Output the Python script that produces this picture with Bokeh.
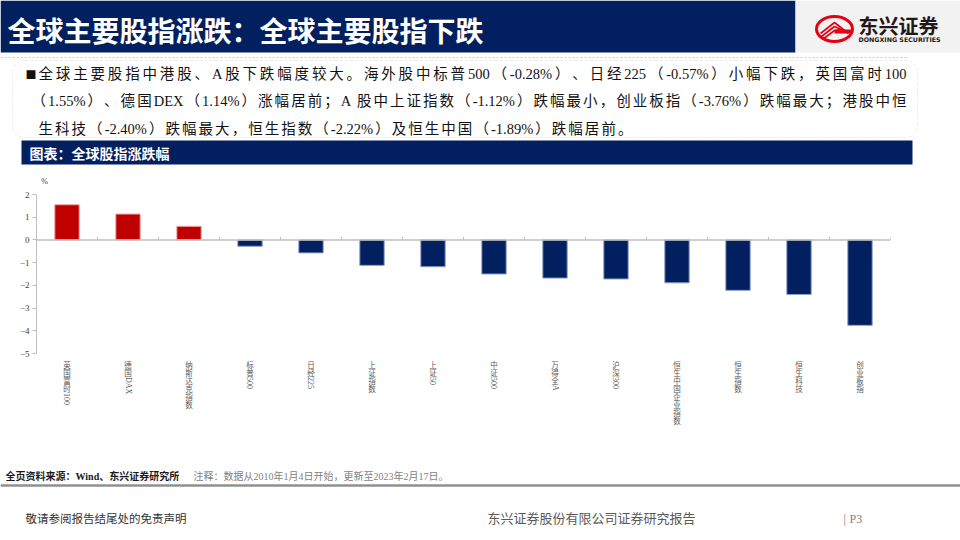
import math
from bokeh.plotting import figure
from bokeh.models import Range1d, FixedTicker, Span, BoxAnnotation, FactorRange
from bokeh.transform import dodge
from bokeh.core.properties import value
from bokeh.embed import file_html
from bokeh.resources import INLINE

# ---------------- data ----------------
categories = ["英国富时100", "德国DAX", "纳斯达克指数", "标普500", "日经225", "上证指数", "上证50",
              "中证500", "万得全A", "沪深300", "恒生中国企业指数", "恒生指数", "恒生科技", "创业板指"]
changes = [1.55, 1.14, 0.60, -0.28, -0.57, -1.12, -1.18, -1.50, -1.68, -1.72, -1.89, -2.22, -2.40, -3.76]
y_ticks = [-5, -4, -3, -2, -1, 0, 1, 2]

title = "全球主要股指涨跌：全球主要股指下跌"
summary_lines = [
    "全球主要股指中港股、A股下跌幅度较大。海外股中标普500（-0.28%）、日经225（-0.57%）小幅下跌，英国富时100",
    "（1.55%）、德国DEX（1.14%）涨幅居前； A股中上证指数（-1.12%）跌幅最小，创业板指（-3.76%）跌幅最大；港股中恒",
    "生科技（-2.40%）跌幅最大，恒生指数（-2.22%）及恒生中国（-1.89%）跌幅居前。",
]
chart_title = "图表：全球股指涨跌幅"
unit_label = "%"
source_bold = "全页资料来源：Wind、东兴证券研究所"
source_note = "注释：数据从2010年1月4日开始，更新至2023年2月17日。"
disclaimer = "敬请参阅报告结尾处的免责声明"
company_report = "东兴证券股份有限公司证券研究报告"
page_no = "P3"

NAVY = "#022060"
RED = "#C00000"
SERIF_NAME = "Liberation Serif, Noto Sans CJK SC"
SERIF = value(SERIF_NAME)
SANS = value("Noto Sans CJK SC")

# approximate Times-like advance widths (em) for ASCII
ASCII_W = {".": 0.25, "%": 0.833, "-": 0.333, " ": 0.25, "A": 0.722, "D": 0.722, "E": 0.611, "X": 0.722}


def tokens_of(s):
    toks, buf = [], ""
    for ch in s:
        if ord(ch) < 128:
            buf += ch
        else:
            if buf:
                toks.append(buf)
                buf = ""
            toks.append(ch)
    if buf:
        toks.append(buf)
    return toks


def tok_width(t, fs):
    if len(t) == 1 and ord(t) >= 128:
        return fs
    return sum(ASCII_W.get(c, 0.5) * fs for c in t)


def page_fig(h, y0, **kw):
    f = figure(width=960, height=h, x_range=kw.pop("x_range", Range1d(0, 960)), y_range=Range1d(y0 + h, y0),
               output_backend="svg", toolbar_location=None, **kw)
    f.axis.visible = False
    f.grid.visible = False
    f.outline_line_color = None
    f.background_fill_color = "white"
    return f


# ---------------- top part ----------------
top = page_fig(186, 0, min_border=0)
top.quad(left=[0], right=[795], top=[0], bottom=[52], fill_color=NAVY, line_color=None)
top.quad(left=[795], right=[960], top=[0], bottom=[52], fill_color="#F2F2F2", line_color=None)
top.text(x=[7], y=[29], text=[title], text_color="white", text_font=SANS, text_font_style="bold",
         text_font_size="28px", text_baseline="middle")

# logo
top.ellipse(x=[834], y=[28.5], width=[36], height=[25], fill_color=None, line_color="#E60012", line_width=3)
top.multi_line(xs=[[820, 834, 848], [821, 834, 845], [822, 834, 842]],
               ys=[[33, 22, 33], [36, 26, 31], [39, 30, 29]], line_color="#E60012", line_width=1.6)
top.quad(left=[834], right=[851], top=[29], bottom=[33], fill_color="#E60012", line_color=None)
top.text(x=[858], y=[25], text=["东兴证券"], text_color="#231815", text_font=SANS, text_font_style="bold",
         text_font_size="20px", text_baseline="middle")
top.text(x=[858], y=[38.5], text=["DONGXING SECURITIES"], text_color="#231815", text_font=value("DejaVu Sans"),
         text_font_style="bold", text_font_size="6.3px", text_baseline="middle")

top.segment(x0=[0], y0=[57], x1=[908], y1=[57], line_color="#C8C8C8", line_dash="2 2", line_width=1)
top.add_layout(BoxAnnotation(left=12, right=917, top=60, bottom=137, fill_color=None,
                             line_color="#BFBFBF", line_dash="3 2", line_width=1, border_radius=12))

# justified summary text (character spacing like the source document)
FS_T = 14.5
starts = [38, 31, 38]
ends = [906, 906, None]
line_y = [73, 100, 128]
sx, sy, st = [], [], []
gap_prev = 2.5
for line, x0, x1, yy in zip(summary_lines, starts, ends, line_y):
    toks = tokens_of(line)
    total = sum(tok_width(t, FS_T) for t in toks)
    gap = (x1 - x0 - total) / (len(toks) - 1) if x1 else gap_prev
    gap_prev = gap
    x = x0
    for t in toks:
        sx.append(x)
        sy.append(yy)
        st.append(t)
        x += tok_width(t, FS_T) + gap
top.text(x=sx, y=sy, text=st, text_color="#111111", text_font=SERIF,
         text_font_size=f"{FS_T}px", text_baseline="middle")
top.text(x=[25], y=[73], text=["■"], text_color="#111111", text_font=value("Noto Sans CJK SC"),
         text_font_size="11px", text_baseline="middle")

top.quad(left=[21], right=[912], top=[140], bottom=[164], fill_color=NAVY, line_color=None)
top.text(x=[29], y=[152], text=[chart_title], text_color="white", text_font=SANS, text_font_style="bold",
         text_font_size="14px", text_baseline="middle")
top.text(x=[44], y=[181], text=[unit_label], text_color="#404040", text_font=SERIF,
         text_font_size="8px", text_baseline="middle", text_align="center")

# ---------------- chart ----------------
xr = FactorRange(*categories, range_padding=0)
p = figure(width=960, height=172, x_range=xr,
           y_range=Range1d(-5, 2), output_backend="svg", toolbar_location=None,
           min_border_top=8, min_border_bottom=5, min_border_left=36, min_border_right=70)
p.grid.visible = False
p.outline_line_color = None

colors = [RED if v >= 0 else NAVY for v in changes]
edges = ["#F2A7A7" if v >= 0 else "#8E9FC7" for v in changes]
p.vbar(x=categories, top=changes, bottom=0, width=0.4, fill_color=colors, line_color=edges, line_width=1)

p.add_layout(Span(location=0, dimension="width", line_color="#BFBFBF", line_width=1.5))
p.segment(x0=dodge("c", 0.5, range=xr), y0=0, x1=dodge("c", 0.5, range=xr), y1=0.13,
          source=dict(c=categories), line_color="#BFBFBF", line_width=1)

ya = p.yaxis[0]
ya.ticker = FixedTicker(ticks=y_ticks)
ya.axis_line_color = "#BFBFBF"
ya.major_tick_line_color = "#BFBFBF"
ya.major_tick_out = 4
ya.major_tick_in = 0
ya.minor_tick_line_color = None
ya.major_label_text_font = SERIF_NAME
ya.major_label_text_font_size = "9px"
ya.major_label_text_color = "#404040"
ya.major_label_standoff = 3
p.xaxis.visible = False

# ---------------- vertical category labels (same categorical scale) ----------------
lab = page_fig(82, 358, x_range=xr, min_border_left=36, min_border_right=70, min_border_top=0,
               min_border_bottom=0)
FS = 7.5
STEP = 8.0
up_x, up_y, up_t, rot_x, rot_y, rot_t = [], [], [], [], [], []
for c in categories:
    y = 360.0
    for t in tokens_of(c):
        if len(t) == 1 and ord(t) >= 128:
            up_x.append(c)
            up_y.append(y)
            up_t.append(t)
            y += STEP
        else:
            rot_x.append(c)
            rot_y.append(y + 0.5)
            rot_t.append(t)
            y += tok_width(t, FS + 0.5) + 1
lab.text(x=up_x, y=up_y, text=up_t, text_color="#595959", text_font=SERIF, text_font_size=f"{FS}px",
         text_align="center", text_baseline="top")
lab.text(x=rot_x, y=rot_y, text=rot_t, text_color="#595959", text_font=SERIF, text_font_size="8px",
         text_align="left", text_baseline="middle", angle=-math.pi / 2)

# ---------------- bottom part ----------------
bot = page_fig(100, 440, min_border=0)
bot.text(x=[5], y=[476], text=[source_bold], text_color="#1A1A1A", text_font=SERIF, text_font_style="bold",
         text_font_size="10px", text_baseline="middle")
bot.text(x=[193], y=[476], text=[source_note], text_color="#7F7F7F", text_font=SERIF,
         text_font_size="10px", text_baseline="middle")
bot.segment(x0=[0], y0=[485], x1=[960], y1=[485], line_color="#909090", line_width=2.5)
bot.text(x=[25], y=[518], text=[disclaimer], text_color="#333333", text_font=SERIF,
         text_font_size="11.5px", text_baseline="middle")
bot.text(x=[487], y=[518], text=[company_report], text_color="#595959", text_font=SERIF,
         text_font_size="13px", text_baseline="middle")
bot.text(x=[843, 849], y=[518, 518], text=["|", page_no], text_color="#808080", text_font=SERIF,
         text_font_size="12px", text_baseline="middle")

open("out.html", "w").write(file_html([top, p, lab, bot], INLINE))
